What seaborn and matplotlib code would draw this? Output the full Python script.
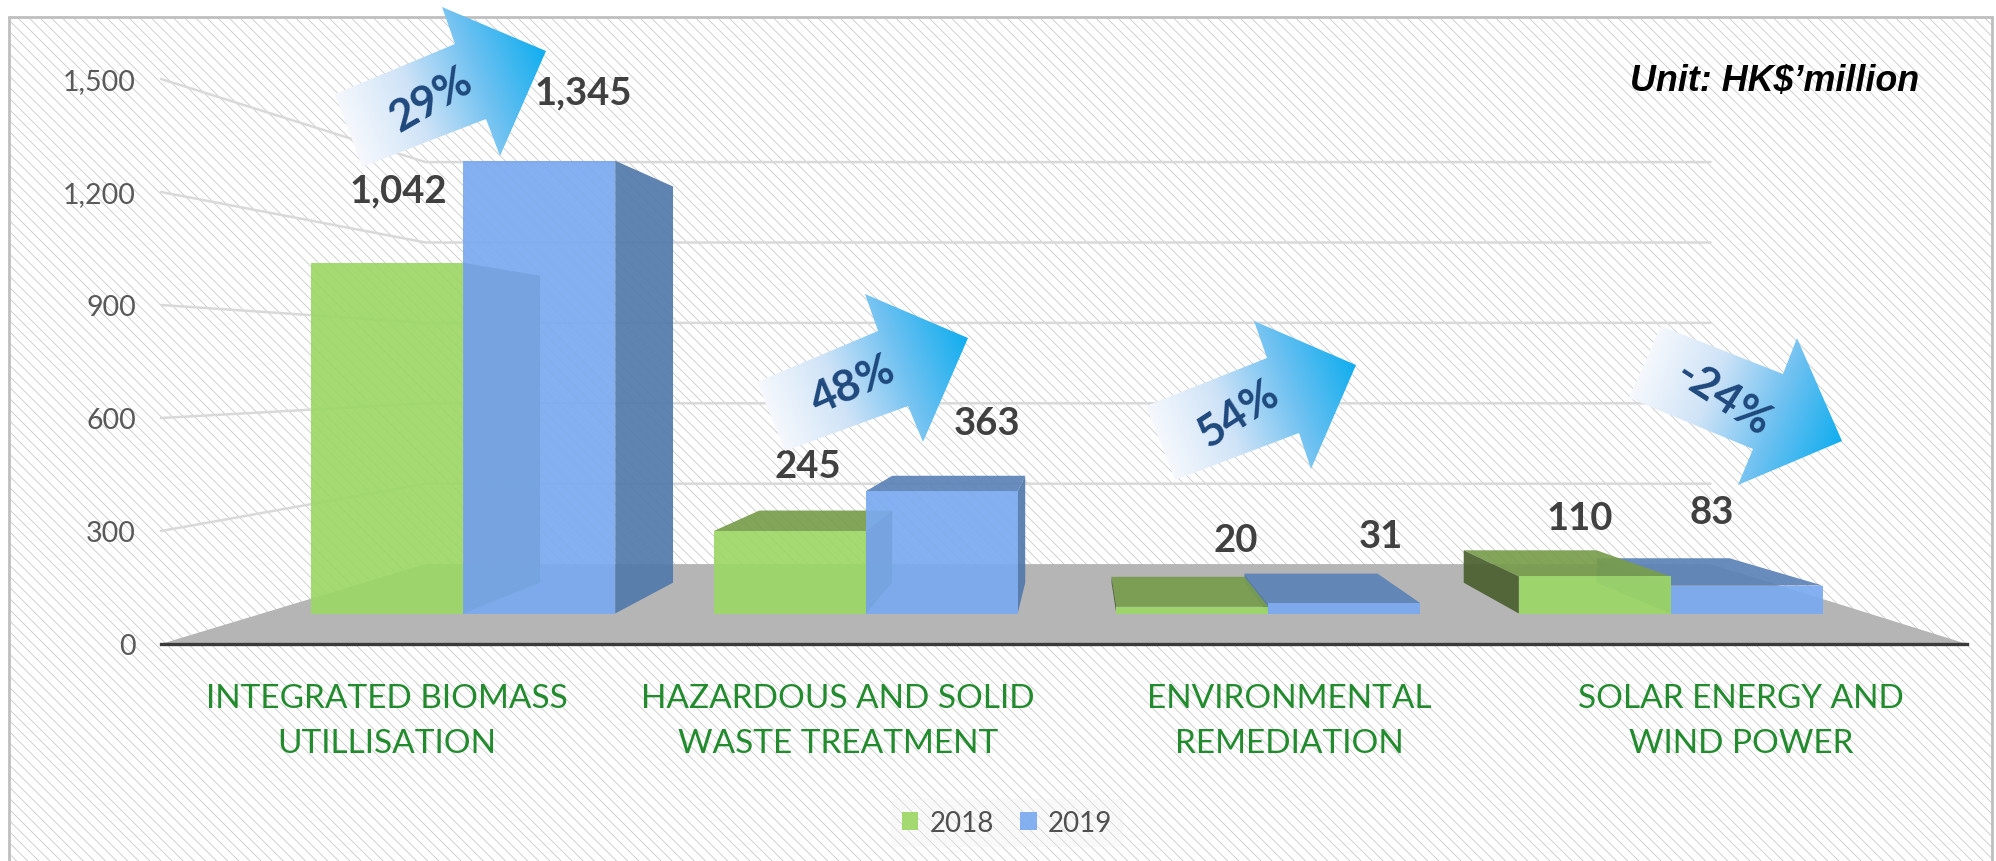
import numpy as np
import pandas as pd
import matplotlib
matplotlib.use('Agg')
import matplotlib.pyplot as plt
from matplotlib.colors import LinearSegmentedColormap
from matplotlib.patches import Polygon, Rectangle
import seaborn as sns

categories = ['INTEGRATED BIOMASS\nUTILLISATION', 'HAZARDOUS AND SOLID\nWASTE TREATMENT',
              'ENVIRONMENTAL\nREMEDIATION', 'SOLAR ENERGY AND\nWIND POWER']
values_2018 = [1042, 245, 20, 110]
values_2019 = [1345, 363, 31, 83]
changes = ['29%', '48%', '54%', '-24%']
y_ticks = [0, 300, 600, 900, 1200, 1500]

W, H = 1996, 862
sns.set_theme(style='white')
plt.rcParams['font.family'] = ['Lato', 'DejaVu Sans']
plt.rcParams['hatch.linewidth'] = 0.5
plt.rcParams['hatch.color'] = '#dcdcdc'

df = pd.DataFrame({
    'category': categories * 2,
    'year': ['2018'] * 4 + ['2019'] * 4,
    'value': values_2018 + values_2019,
})


# perspective of the fake 3D box, all in image pixels (y down)
VP = np.array([1078.0, 368.0])
WALL_T = 0.2885  # front of floor -> back wall
DEPTH_T = 0.125  # front of bar -> back of bar


def project(p, t):
    p = np.asarray(p, dtype=float)
    return p + t * (VP - p)


def add_axes_px(left, right, top, bottom, z):
    a = fig.add_axes([left / W, 1 - bottom / H, (right - left) / W, (bottom - top) / H])
    a.set_zorder(z)
    a.patch.set_alpha(0)
    return a


def to_px(a, x, y):
    d = a.transData.transform((x, y))
    return np.array([d[0], H - d[1]])


fig = plt.figure(figsize=(W / 100, H / 100), dpi=100, facecolor='white')

# background layer: pixel coords
bg = add_axes_px(0, W, 0, H, 0)
bg.set_xlim(0, W)
bg.set_ylim(H, 0)
bg.set_axis_off()
bg.add_patch(Rectangle((9, 18), 1983, 860, facecolor='white', edgecolor='#bfbfbf', lw=2, hatch='\\\\\\'))

# front plane with the printed axis labels
ax_front = add_axes_px(161, 1967, 80, 645, 1)
ax_front.set_xlim(-0.5, 3.5)
ax_front.set_ylim(0, 1500)
ax_front.set_xticks(range(4))
ax_front.set_xticklabels(categories, color='#228b2e', fontsize=24, linespacing=1.65)
ax_front.set_yticks(y_ticks)
ax_front.set_yticklabels([f'{v:,}' for v in y_ticks], color='#595959', fontsize=20.5)
ax_front.tick_params(axis='both', length=0)
ax_front.tick_params(axis='y', pad=18)
ax_front.tick_params(axis='x', pad=28)
sns.despine(ax=ax_front, left=True)
ax_front.spines['bottom'].set_color('#3a3a3a')
ax_front.spines['bottom'].set_linewidth(2.4)

# wall gridlines, taken from the front axis ticks
x_right = to_px(ax_front, 3.5, 0)[0]
for v in y_ticks[1:]:
    start = to_px(ax_front, -0.5, v)
    back_l = project(start, WALL_T)
    back_r = project(np.array([x_right, start[1]]), WALL_T)
    bg.plot([start[0], back_l[0], back_r[0]], [start[1], back_l[1], back_r[1]],
            color='#d9d9d9', lw=1.8, solid_joinstyle='miter')

floor_fl = to_px(ax_front, -0.5, 0)
floor_fr = to_px(ax_front, 3.5, 0)
bg.add_patch(Polygon([floor_fl, floor_fr, project(floor_fr, WALL_T), project(floor_fl, WALL_T)],
                     closed=True, facecolor='#b5b5b5', edgecolor='none', zorder=3))

# bars
ax = add_axes_px(262, 1872, 109.5, 614.5, 2)
sns.barplot(data=df, x='category', y='value', hue='year', hue_order=['2018', '2019'],
            palette={'2018': '#9dd766', '2019': '#7aaaf0'}, width=0.755, gap=0, saturation=1,
            alpha=0.92, linewidth=0, ax=ax, legend=True)
ax.set_xlim(-0.5, 3.5)
ax.set_ylim(0, 1500)
handles, labels = ax.get_legend_handles_labels()
ax.get_legend().remove()
ax.set_axis_off()

side_colors = {'2018': '#4a602f', '2019': '#527aab'}
top_colors = {'2018': '#789d4c', '2019': '#5b83b8'}
px2data = ax.transData.inverted()


def poly(pts, color, zz):
    d = [px2data.transform((p[0], H - p[1])) for p in pts]
    ax.add_patch(Polygon(d, closed=True, facecolor=color, edgecolor='none', alpha=0.92, zorder=zz))


for cont, year in zip(ax.containers, ['2018', '2019']):
    for i, bar in enumerate(cont):
        x0 = bar.get_x()
        x1 = x0 + bar.get_width()
        h = bar.get_height()
        bl, br = to_px(ax, x0, 0), to_px(ax, x1, 0)
        tl, tr = to_px(ax, x0, h), to_px(ax, x1, h)
        # left of the vanishing point green is behind blue, right of it the other way
        behind = (year == '2018') == (to_px(ax, i, 0)[0] < VP[0])
        z = 2 if behind else 5
        if tl[1] > VP[1]:  # top only seen below eye level
            poly([tl, tr, project(tr, DEPTH_T), project(tl, DEPTH_T)], top_colors[year], z)
        if tr[0] <= VP[0]:
            poly([tr, br, project(br, DEPTH_T), project(tr, DEPTH_T)], side_colors[year], z)
        if tl[0] >= VP[0]:
            poly([tl, bl, project(bl, DEPTH_T), project(tl, DEPTH_T)], side_colors[year], z)
        bar.set_zorder(z + 1)

# top layer: value labels, arrows, unit
top = add_axes_px(0, W, 0, H, 3)
top.set_xlim(0, W)
top.set_ylim(H, 0)
top.set_axis_off()

label_pos_2018 = [(398, 191), (808, 467), (1236, 541), (1580, 519)]
label_pos_2019 = [(583, 93), (987, 424), (1381, 537), (1712, 513)]
for vals, pos in [(values_2018, label_pos_2018), (values_2019, label_pos_2019)]:
    for v, (x, y) in zip(vals, pos):
        top.text(x, y, f'{v:,}', ha='center', va='center', fontsize=27.5, fontweight='bold', color='#404040')

arrow_cmap = LinearSegmentedColormap.from_list('arrow', ['#f5f8fd', '#cfe3f7', '#6fc1f1', '#11aeef'])
arrows = [
    [(335, 95), (455, 45), (442, 8), (546, 52), (500, 157), (486, 120), (362, 168)],
    [(757, 383), (878, 332), (865, 295), (968, 339), (923, 443), (908, 407), (785, 452)],
    [(1146, 407), (1267, 359), (1254, 322), (1356, 366), (1311, 470), (1299, 434), (1175, 481)],
    [(1661, 327), (1783, 375), (1797, 339), (1842, 442), (1738, 486), (1753, 450), (1629, 399)],
]
change_pos = [(431, 100, 30), (853, 385, 24), (1238, 414, 33), (1724, 399, -33)]
for shape, txt, (tx, ty, rot) in zip(arrows, changes, change_pos):
    pts = np.array(shape, dtype=float)
    tail = (pts[0] + pts[6]) / 2
    tip = pts[3]
    d = tip - tail
    xs = np.arange(pts[:, 0].min() - 1, pts[:, 0].max() + 2)
    ys = np.arange(pts[:, 1].min() - 1, pts[:, 1].max() + 2)
    gx, gy = np.meshgrid(xs, ys)
    grad = ((gx - tail[0]) * d[0] + (gy - tail[1]) * d[1]) / (d @ d)
    img = top.imshow(grad, cmap=arrow_cmap, vmin=0, vmax=1, aspect='auto', interpolation='bilinear',
                     extent=(xs[0], xs[-1], ys[-1], ys[0]), zorder=4)
    clip = Polygon(pts, closed=True, transform=top.transData, facecolor='none', edgecolor='none')
    top.add_patch(clip)
    img.set_clip_path(clip)
    top.text(tx, ty, txt, ha='center', va='center', rotation=rot, rotation_mode='anchor',
             fontsize=32, fontweight='bold', color='#1f497d', zorder=5)
top.set_xlim(0, W)
top.set_ylim(H, 0)

top.text(1919, 81, 'Unit: HK$\u2019million', ha='right', va='center', fontsize=25.8, fontweight='bold',
         fontstyle='italic', color='black', family='Liberation Sans')

leg = fig.legend(handles, labels, loc='center', bbox_to_anchor=(1007 / W, 1 - 824 / H), ncol=2, fontsize=20,
                 frameon=True, facecolor='#f0f0f0', edgecolor='none', framealpha=0.4, handlelength=0.6,
                 handleheight=0.6, handletextpad=0.4, columnspacing=0.95, labelcolor='#505050')
leg.set_zorder(6)

fig.savefig('out.png', dpi=100)
